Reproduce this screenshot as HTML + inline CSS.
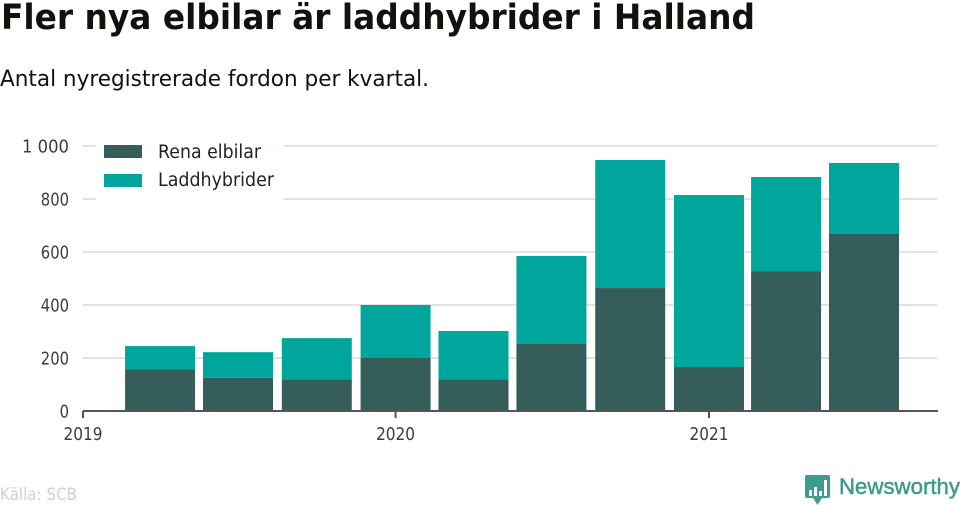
<!DOCTYPE html>
<html lang="sv">
<head>
<meta charset="utf-8">
<title>Fler nya elbilar är laddhybrider i Halland</title>
<style>
html,body{margin:0;padding:0;background:#fff;width:960px;height:505px;overflow:hidden}
svg{display:block}
text{font-family:"DejaVu Sans","Liberation Sans",sans-serif}
</style>
</head>
<body>
<svg id="chart" width="960" height="505" viewBox="0 0 960 505" xmlns="http://www.w3.org/2000/svg">
<text x="1" y="29" font-size="35" font-weight="700" fill="#11110d" textLength="754" lengthAdjust="spacingAndGlyphs">Fler nya elbilar är laddhybrider i Halland</text>
<text x="0" y="86" font-size="22.5" fill="#11110d" textLength="429" lengthAdjust="spacingAndGlyphs">Antal nyregistrerade fordon per kvartal.</text>
<g id="grid"></g>
<g id="bars"></g>
<g id="axes"></g>
<g>
<rect x="96" y="138" width="188" height="64" fill="#fff" fill-opacity="0.93"/>
<g>
<rect x="104" y="145" width="38" height="13" fill="#355e5b"/>
<text x="158" y="158" font-size="18.5" fill="#222" textLength="103" lengthAdjust="spacingAndGlyphs">Rena elbilar</text>
</g>
<g>
<rect x="104" y="174" width="38" height="13" fill="#00a59b"/>
<text x="158" y="186" font-size="18.5" fill="#222" textLength="116" lengthAdjust="spacingAndGlyphs">Laddhybrider</text>
</g>
</g>
<text x="0" y="500" font-size="16.5" fill="#cfd0da" textLength="77" lengthAdjust="spacingAndGlyphs">Källa: SCB</text>
<g>
<path d="M807 475h21a2 2 0 0 1 2 2v19a2 2 0 0 1-2 2h-6l-4.500 7-4.500-7h-6a2 2 0 0 1-2-2v-19a2 2 0 0 1 2-2z" fill="#3f9a8f"/>
<rect x="809" y="490" width="3" height="6" fill="#fff"/>
<rect x="814" y="487" width="3" height="9" fill="#fff"/>
<rect x="819" y="491" width="3" height="5" fill="#fff"/>
<rect x="824" y="480" width="3" height="16" fill="#fff"/>
<text x="839" y="494" font-size="22" fill="#3f9a8f" stroke="#3f9a8f" stroke-width="0.5" style="font-family:'Liberation Sans',sans-serif" textLength="121" lengthAdjust="spacingAndGlyphs">Newsworthy</text>
</g>
</svg>
<script>
const quarters = ["2019-04-01","2019-07-01","2019-10-01","2020-01-01","2020-04-01","2020-07-01","2020-10-01","2021-01-01","2021-04-01","2021-07-01"];
const renaElbilar = [158,125,120,200,120,253,464,166,528,668];
const laddhybrider = [87,97,155,200,182,332,483,649,355,268];
const yTicks = [0,200,400,600,800,1000];
const yTickLabels = ["0","200","400","600","800","1 000"];
const xTicks = ["2019-01-01","2020-01-01","2021-01-01"];
const xTickLabels = ["2019","2020","2021"];

const NS = 'http://www.w3.org/2000/svg';
const X0 = Date.UTC(2019,0,1), X1 = Date.UTC(2021,0,1);
function xScale(d){ return 83 + (new Date(d + 'T00:00:00Z').getTime() - X0) / (X1 - X0) * 626; }
function yScale(v){ return 411 - v * 0.265; }
function make(tag, attrs, parent){
  const el = document.createElementNS(NS, tag);
  for (const k in attrs) el.setAttribute(k, attrs[k]);
  parent.appendChild(el);
  return el;
}
const grid = document.getElementById('grid');
const bars = document.getElementById('bars');
const axes = document.getElementById('axes');

yTicks.forEach(function(v, i){
  if (v !== 0) {
    const line = make('rect', {x:83, y:yScale(v)-1, width:854, height:2, fill:'#e2e2e2'}, grid);
    
    
  }
  const label = yTickLabels[i];
  const t = make('text', {x:69, y:yScale(v)+6.5, 'text-anchor':'end', 'font-size':17.5, fill:'#3d3d3d', textLength:label.length * 9.4, lengthAdjust:'spacingAndGlyphs'}, axes);
  
  
  t.textContent = label;
});

quarters.forEach(function(q, i){
  const cx = xScale(q);
  const w = 70;
  const base = yScale(renaElbilar[i]);
  const top = yScale(renaElbilar[i] + laddhybrider[i]);
  const a = make('rect', {x:cx-w/2, y:base, width:w, height:yScale(0)-base, fill:'#355e5b'}, bars);
  
  
  const b = make('rect', {x:cx-w/2, y:top, width:w, height:base-top, fill:'#00a59b'}, bars);
  
  
});

const axis = make('rect', {x:83, y:410, width:855, height:2, fill:'#555'}, axes);


xTicks.forEach(function(d, i){
  const x = xScale(d);
  const tick = make('rect', {x:x-1, y:411, width:2, height:7, fill:'#555'}, axes);
  
  
  const t = make('text', {x:x, y:440, 'text-anchor':'middle', 'font-size':17.5, fill:'#3d3d3d', textLength:39, lengthAdjust:'spacingAndGlyphs'}, axes);
  
  
  t.textContent = xTickLabels[i];
});
</script>
</body>
</html>
